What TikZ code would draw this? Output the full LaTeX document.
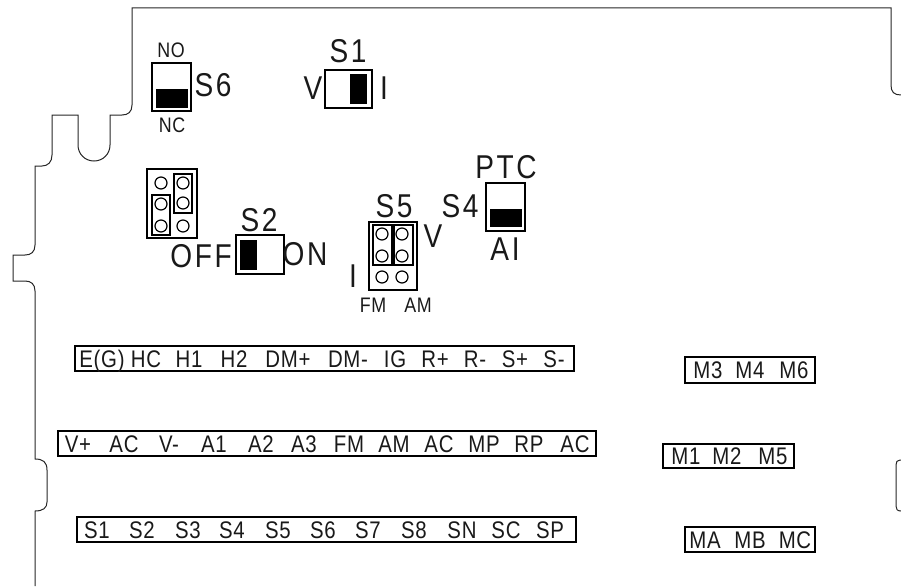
\documentclass[tikz,border=0pt]{standalone}
\usepackage{fontspec}
\setmainfont[FakeStretch=0.85]{Liberation Sans}
\tikzset{
  x=1pt,y=-1pt,
  outline/.style={line width=1pt,draw=black!85},
  swbox/.style={line width=1.8pt,draw=black},
  thin box/.style={line width=1.3pt,draw=black},
  hole/.style={circle,draw=black,line width=1.2pt,minimum size=12pt,inner sep=0pt},
  lab/.style={inner sep=0pt,anchor=center,text=black!90,text depth=0pt},
  rowlab/.style={lab,text height=16pt,font=\fontsize{24}{24}\selectfont\addfontfeature{LetterSpace=3}},
  biglab/.style={lab,text height=22pt,font=\fontsize{33}{33}\selectfont\addfontfeature{LetterSpace=8}},
  smalllab/.style={lab,text height=14pt,font=\fontsize{21}{21}\selectfont\addfontfeature{LetterSpace=3}},
}
\newcommand{\rowitems}[2]{\foreach \xx/\tt/\nn in {#2}{\node[rowlab] (\nn) at (\xx,#1) {\tt};}}
\begin{document}
\begin{tikzpicture}
\useasboundingbox (0,0) rectangle (901,586);
% outline
\draw[outline] (901,95) .. controls (894,95) and (891,92) .. (891,85) -- (891,8) -- (132,8) -- (132,105)
  .. controls (132,112) and (128,115) .. (122,115) -- (110,115) -- (110,145)
  .. controls (110,154) and (103,161) .. (94,161) .. controls (85,161) and (78,154) .. (78,145)
  -- (78,115) -- (52,115) -- (52,155)
  .. controls (52,162) and (48,166) .. (42,166) -- (35,166) -- (35,245)
  .. controls (35,252) and (31,255) .. (25,255) -- (13,255) -- (13,281) -- (25,281)
  .. controls (31,281) and (35,284) .. (35,291) -- (35,459)
  .. controls (43,459) and (47,462) .. (47,470) -- (47,502)
  .. controls (47,508) and (43,511) .. (35,511) -- (35,586);
\draw[outline] (901,460) -- (900,460) .. controls (897,460) and (896,462) .. (896,465) -- (896,506)
  .. controls (896,509) and (897,511) .. (901,511);
% S6
\draw[swbox] (152,63) rectangle (191,111);
\fill (156,89) rectangle (188,108);
\node[smalllab] (no) at (171,50) {NO};
\node[smalllab] (nc) at (172,125) {NC};
\node[biglab] (s6) at (213,85) {S6};
% S1
\draw[swbox] (325,70) rectangle (372,108);
\fill (350,74) rectangle (367,104);
\node[biglab] (s1) at (348,52) {S1};
\node[biglab] (s1v) at (313,88) {V};
\node[biglab] (s1i) at (384,88) {I};
% S4
\draw[swbox] (486,183) rectangle (525,231);
\fill (490,209) rectangle (522,227);
\node[biglab] (ptc) at (506,167) {PTC};
\node[biglab] (s4) at (460,206) {S4};
\node[biglab] (ai) at (505,249) {AI};
% S2
\draw[swbox] (236,235) rectangle (284,274);
\fill (240,240) rectangle (257,270);
\node[biglab] (s2) at (259,220) {S2};
\node[biglab] (off) at (201,256) {OFF};
\node[biglab] (on) at (305,254) {ON};
% left jumper
\draw[swbox] (147,169) rectangle (197,238);
\draw[thin box] (152,195) rectangle (170,235);
\draw[thin box] (174,174) rectangle (192,213);
\node[hole] (j1) at (161,183) {};
\node[hole] (j2) at (183,183) {};
\node[hole] (j3) at (161,204) {};
\node[hole] (j4) at (183,203) {};
\node[hole] (j5) at (161,226) {};
\node[hole] (j6) at (183,226) {};
% S5
\draw[swbox] (369,222) rectangle (417,290);
\draw[thin box] (373,225) rectangle (392,265);
\draw[thin box] (394,225) rectangle (413,265);
\node[hole] (k1) at (382,234) {};
\node[hole] (k2) at (402,234) {};
\node[hole] (k3) at (382,256) {};
\node[hole] (k4) at (402,256) {};
\node[hole] (k5) at (382,277) {};
\node[hole] (k6) at (402,277) {};
\node[biglab] (s5) at (394,206) {S5};
\node[biglab] (s5v) at (433,236) {V};
\node[biglab] (s5i) at (353,276) {I};
\node[smalllab] (fm) at (373,305) {FM};
\node[smalllab] (am) at (418,305) {AM};
% terminal rows
\draw[swbox] (75,346) rectangle (574,371);
\rowitems{359}{102/E(G)/a1,146/HC/a2,189/H1/a3,234/H2/a4,288/DM+/a5,348/DM-/a6,395/IG/a7,435/R+/a8,475/R-/a9,515/S+/a10,554/S-/a11}
\draw[swbox] (58,431) rectangle (596,456);
\rowitems{444}{78/V+/b1,124/AC/b2,169/V-/b3,214/A1/b4,261/A2/b5,304/A3/b6,349/FM/b7,394/AM/b8,439/AC/b9,484/MP/b10,529/RP/b11,575/AC/b12}
\draw[swbox] (77,517) rectangle (576,542);
\rowitems{530}{97/S1/c1,142/S2/c2,188/S3/c3,232/S4/c4,278/S5/c5,323/S6/c6,368/S7/c7,414/S8/c8,462/SN/c9,506/SC/c10,550/SP/c11}
\draw[swbox] (685,357) rectangle (815,383);
\rowitems{370}{708/M3/d1,750/M4/d2,794/M6/d3}
\draw[swbox] (663,444) rectangle (794,468);
\rowitems{456}{686/M1/e1,727/M2/e2,773/M5/e3}
\draw[swbox] (685,527) rectangle (815,552);
\rowitems{540}{705/MA/f1,750/MB/f2,795/MC/f3}
\end{tikzpicture}
\end{document}
